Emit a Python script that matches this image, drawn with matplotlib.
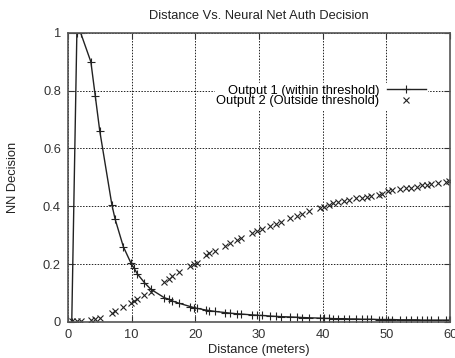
import matplotlib
matplotlib.use("Agg")
import matplotlib.pyplot as plt

distance = [0.6, 1.4, 2.0, 3.6, 4.3, 5.0, 6.9, 7.4, 8.7, 9.9, 10.4, 10.9, 12.0, 13.0,
            15.1, 15.8, 16.4, 17.5, 19.2, 19.8, 20.2, 21.6, 22.2, 23.1, 24.7, 25.5,
            26.5, 27.2, 28.9, 29.7, 30.5, 31.8, 32.6, 33.4, 34.9, 35.9, 36.7, 37.9,
            39.5, 40.2, 41.0, 41.6, 42.4, 43.4, 44.2, 45.2, 46.2, 46.9, 47.6, 48.8,
            49.3, 50.3, 50.9, 52.1, 53.1, 53.9, 54.8, 55.6, 56.3, 57.0, 58.1, 59.3, 59.8]

output1 = [0.0, 1.0, 1.0, 0.90, 0.78, 0.66, 0.405, 0.356, 0.26, 0.203, 0.185, 0.166,
           0.136, 0.113, 0.084, 0.078, 0.072, 0.064, 0.053, 0.049, 0.047, 0.041, 0.039,
           0.036, 0.032, 0.030, 0.028, 0.027, 0.024, 0.023, 0.022, 0.020, 0.019, 0.018,
           0.017, 0.016, 0.015, 0.014, 0.013, 0.012, 0.012, 0.011, 0.011, 0.011, 0.010,
           0.010, 0.009, 0.009, 0.009, 0.008, 0.008, 0.008, 0.008, 0.007, 0.007, 0.007,
           0.007, 0.006, 0.006, 0.006, 0.006, 0.006, 0.006]

output2 = [0.002, 0.003, 0.003, 0.007, 0.009, 0.013, 0.032, 0.036, 0.051, 0.065, 0.071,
           0.079, 0.093, 0.105, 0.137, 0.147, 0.157, 0.171, 0.194, 0.200, 0.205, 0.230,
           0.237, 0.245, 0.264, 0.273, 0.282, 0.290, 0.307, 0.315, 0.321, 0.331, 0.339,
           0.347, 0.358, 0.365, 0.373, 0.382, 0.393, 0.398, 0.405, 0.410, 0.414, 0.420,
           0.423, 0.427, 0.430, 0.432, 0.435, 0.438, 0.441, 0.452, 0.455, 0.459, 0.463,
           0.465, 0.468, 0.472, 0.475, 0.477, 0.480, 0.484, 0.486]

xticks = [0, 10, 20, 30, 40, 50, 60]
yticks = [0, 0.2, 0.4, 0.6, 0.8, 1]
ytick_labels = ["0", "0.2", "0.4", "0.6", "0.8", "1"]

plt.rcParams['font.family'] = ['Liberation Sans', 'DejaVu Sans']
fs = 9.3

fig = plt.figure(figsize=(4.56, 3.58), dpi=100)
ax = fig.add_axes([0.149, 0.101, 0.838, 0.807])

ax.plot(distance, output1, color='#222222', lw=1.0, marker='+', ms=6, mew=0.8,
        label='Output 1 (within threshold)')
ax.plot(distance, output2, color='#222222', lw=0, marker='x', ms=4.5, mew=0.8,
        label='Output 2 (Outside threshold)')

ax.set_xlim(0, 60)
ax.set_ylim(0, 1)
ax.set_xticks(xticks)
ax.set_xticklabels([str(v) for v in xticks], fontsize=fs, color='#333333')
ax.set_yticks(yticks)
ax.set_yticklabels(ytick_labels, fontsize=fs, color='#333333')
ax.tick_params(direction='in', length=4, width=0.8, color='#333333', top=True, right=True, pad=5)
ax.grid(True, color='#222222', linestyle=(0, (1.5, 1.5)), lw=0.7)
for s in ax.spines.values():
    s.set_color('#555555')
    s.set_linewidth(1.2)

ax.set_title('Distance Vs. Neural Net Auth Decision', fontsize=fs, color='#222222', pad=10)
ax.set_xlabel('Distance (meters)', fontsize=fs, color='#222222', labelpad=2)
ax.set_ylabel('NN Decision', fontsize=fs, color='#222222', labelpad=17)

leg = ax.legend(loc='upper right', bbox_to_anchor=(0.94, 0.825), markerfirst=False,
                frameon=True, fontsize=fs, handlelength=3.0, labelspacing=-0.12,
                borderpad=0.1, borderaxespad=0, handletextpad=0.6, fancybox=False)
leg.get_frame().set_edgecolor('white')
leg.get_frame().set_facecolor('white')
leg.get_frame().set_alpha(1.0)

fig.savefig('out.png', dpi=100)
